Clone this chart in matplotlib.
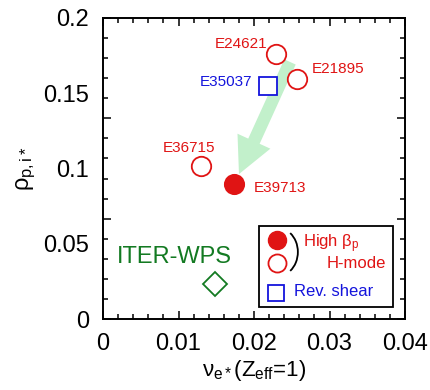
import numpy as np
import matplotlib
matplotlib.use('Agg')
import matplotlib.pyplot as plt
from matplotlib.patches import Rectangle, Arc
from matplotlib.lines import Line2D

plt.rcParams['font.family'] = ['Liberation Sans', 'DejaVu Sans']
plt.rcParams['mathtext.fontset'] = 'custom'
plt.rcParams['mathtext.rm'] = 'Liberation Sans'
plt.rcParams['mathtext.it'] = 'Liberation Sans'

# data
shots = ['E24621', 'E21895', 'E35037', 'E36715', 'E39713']
nu_e = [0.0229, 0.0257, 0.0219, 0.0130, 0.0174]
rho_p = [0.176, 0.1595, 0.1545, 0.1017, 0.0897]
kind = ['open', 'open', 'square', 'open', 'filled']
iter_nu = [0.0148]
iter_rho = [0.0233]

RED = '#e01414'
BLUE = '#1414dc'
GREEN = '#137a22'

fig = plt.figure(figsize=(4.3, 3.9), dpi=100)
ax = fig.add_axes([103/430, 1-319/390, 302/430, 301/390])
ax.set_xlim(0, 0.04)
ax.set_ylim(0, 0.2)

# green arrow from the older shots down to E39713
ax.annotate('', xy=(0.01801, 0.0963), xytext=(0.02477, 0.1708),
            arrowprops=dict(arrowstyle='simple,head_length=1.3,head_width=1.3,tail_width=0.45',
                            mutation_scale=20, color='#c2f0cb', lw=0,
                            shrinkA=0, shrinkB=0), zorder=1)

# label offsets in pixels (dx, dy, ha)
offsets = {'E24621': (-9, 10, 'right'), 'E21895': (15, 10, 'left'),
           'E35037': (-16, 4, 'right'), 'E36715': (-12, 18, 'center'),
           'E39713': (19, -4, 'left')}

for name, x, y, k in zip(shots, nu_e, rho_p, kind):
    if k == 'filled':
        ax.plot(x, y, 'o', ms=14, mfc=RED, mec=RED, mew=1.2, zorder=3)
    elif k == 'open':
        ax.plot(x, y, 'o', ms=14, mfc='white', mec=RED, mew=1.3, zorder=3)
    else:
        ax.plot(x, y, 's', ms=13.5, mfc='white', mec=BLUE, mew=1.3, zorder=3)
    dx, dy, ha = offsets[name]
    ax.annotate(name, (x, y), xytext=(dx * 0.72, dy * 0.72), textcoords='offset points',
                ha=ha, va='center', fontsize=11, color=BLUE if k == 'square' else RED)

ax.plot(iter_nu, iter_rho, 'D', ms=12.5, mfc='white', mec=GREEN, mew=1.3, zorder=3)
ax.annotate('ITER-WPS', (iter_nu[0], iter_rho[0]), xytext=(-40 * 0.72, 26.5 * 0.72),
            textcoords='offset points', ha='center', va='center', fontsize=17, color=GREEN)

# hand-made legend box
tr = ax.transAxes
ax.add_patch(Rectangle((0.517, 0.040), 0.443, 0.269, transform=tr, fill=False,
                       ec='black', lw=1.3, zorder=4))
ax.add_line(Line2D([0.575], [0.262], transform=tr, marker='o', ms=13, mfc=RED, mec=RED, ls=''))
ax.add_line(Line2D([0.575], [0.186], transform=tr, marker='o', ms=13, mfc='white', mec=RED,
                   mew=1.3, ls=''))
ax.add_line(Line2D([0.573], [0.086], transform=tr, marker='s', ms=12, mfc='white', mec=BLUE,
                   mew=1.3, ls=''))
ax.add_patch(Arc((0.579, 0.2226), 0.1325, 0.1595, theta1=-57, theta2=57, transform=tr,
                 color='black', lw=1.3))
ax.text(0.663, 0.249, r'High $\beta_{\rm p}$', transform=tr, color=RED, fontsize=12,
        ha='left', va='center')
ax.text(0.74, 0.183, 'H-mode', transform=tr, color=RED, fontsize=12, ha='left', va='center')
ax.text(0.633, 0.09, 'Rev. shear', transform=tr, color=BLUE, fontsize=12, ha='left', va='center')

# ticks: all inward, on all four sides
for s in ax.spines.values():
    s.set_linewidth(1.4)
ax.set_xticks(np.arange(0, 0.0401, 0.01))
ax.set_xticks(np.arange(0, 0.0401, 0.002), minor=True)
ax.set_xticklabels(['0', '0.01', '0.02', '0.03', '0.04'])
ax.set_yticks(np.linspace(0, 0.2, 4))
ax.set_yticks(np.linspace(0, 0.2, 16), minor=True)
ax.tick_params(which='both', direction='in', top=True, right=True, width=1.1,
               labelsize=17, labelleft=False)
ax.tick_params(axis='x', which='both', pad=10)
ax.tick_params(which='major', length=6)
ax.tick_params(which='minor', length=3.5)

# y labels sit on their own axis
sec = ax.secondary_yaxis('left')
sec.set_yticks([0, 0.05, 0.1, 0.15, 0.2])
sec.set_yticklabels(['0', '0.05', '0.1', '0.15', '0.2'])
sec.tick_params(length=0, labelsize=17, pad=10)
sec.spines['left'].set_visible(False)
sec.set_ylabel(r'$\rho_{\rm p,i*}$', fontsize=17, labelpad=4)

ax.set_xlabel(r'$\nu_{\rm e*}$(Z$_{\rm eff}$=1)', fontsize=16, labelpad=2)

fig.savefig('out.png', dpi=100)
